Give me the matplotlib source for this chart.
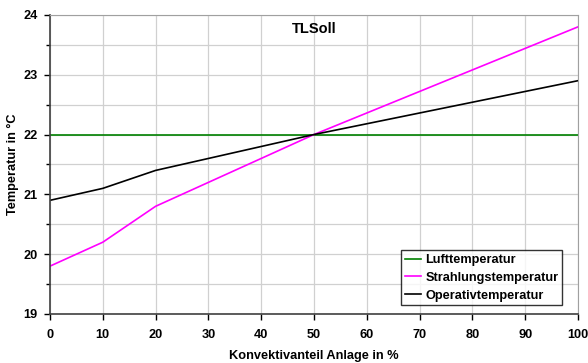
import numpy as np
import matplotlib
matplotlib.use('Agg')
import matplotlib.pyplot as plt
from matplotlib.ticker import MultipleLocator

plt.rcParams['font.family'] = ['Liberation Sans', 'DejaVu Sans']
plt.rcParams['font.weight'] = 'bold'

# data
konvektivanteil = [0, 10, 20, 30, 40, 50, 60, 70, 80, 90, 100]
lufttemperatur = [22, 22, 22, 22, 22, 22, 22, 22, 22, 22, 22]
strahlungstemperatur = [19.8, 20.2, 20.8, 21.2, 21.6, 22.0, 22.36, 22.72, 23.08, 23.44, 23.8]
operativtemperatur = [20.9, 21.1, 21.4, 21.6, 21.8, 22.0, 22.18, 22.36, 22.54, 22.72, 22.9]

fs = 9.2

fig = plt.figure(figsize=(5.88, 3.63), dpi=100)
ax = fig.add_axes([0.085, 0.135, 0.898, 0.824])

ax.plot(konvektivanteil, lufttemperatur, color='#008000', lw=1.2, label='Lufttemperatur')
ax.plot(konvektivanteil, strahlungstemperatur, color='#ff00ff', lw=1.2, label='Strahlungstemperatur')
ax.plot(konvektivanteil, operativtemperatur, color='black', lw=1.2, label='Operativtemperatur')

ax.set_xlim(0, 100)
ax.set_ylim(19, 24)
ax.xaxis.set_major_locator(MultipleLocator(10))
ax.yaxis.set_major_locator(MultipleLocator(1))
ax.yaxis.set_minor_locator(MultipleLocator(0.5))
ax.grid(True, which='both', color='#d0d0d0', lw=0.9)
ax.set_axisbelow(True)

for side in ['top', 'right']:
    ax.spines[side].set_color('#a0a0a0')
for side in ['left', 'bottom']:
    ax.spines[side].set_color('#404040')
    ax.spines[side].set_linewidth(1.2)

ax.tick_params(axis='x', which='major', length=4, width=1, labelsize=fs, pad=7)
ax.tick_params(axis='y', which='major', length=4, width=1, labelsize=fs, pad=5)
ax.tick_params(axis='y', which='minor', length=3, width=1)
for lab in ax.get_xticklabels() + ax.get_yticklabels():
    lab.set_fontweight('bold')

ax.set_xlabel('Konvektivanteil Anlage in %', fontsize=fs, fontweight='bold', labelpad=6)
ax.set_ylabel('Temperatur in °C', fontsize=fs, fontweight='bold', labelpad=3)
ax.text(0.5, 0.975, 'TLSoll', transform=ax.transAxes, ha='center', va='top',
        fontsize=10.5, fontweight='bold')

leg = ax.legend(loc='lower right', bbox_to_anchor=(0.975, 0.02), fontsize=fs, frameon=True,
                fancybox=False, edgecolor='black', handlelength=1.3, handletextpad=0.3,
                borderpad=0.3, labelspacing=0.45, borderaxespad=0.2)
leg.get_frame().set_linewidth(1.0)
for t in leg.get_texts():
    t.set_fontweight('bold')

fig.savefig('out.png', dpi=100)
